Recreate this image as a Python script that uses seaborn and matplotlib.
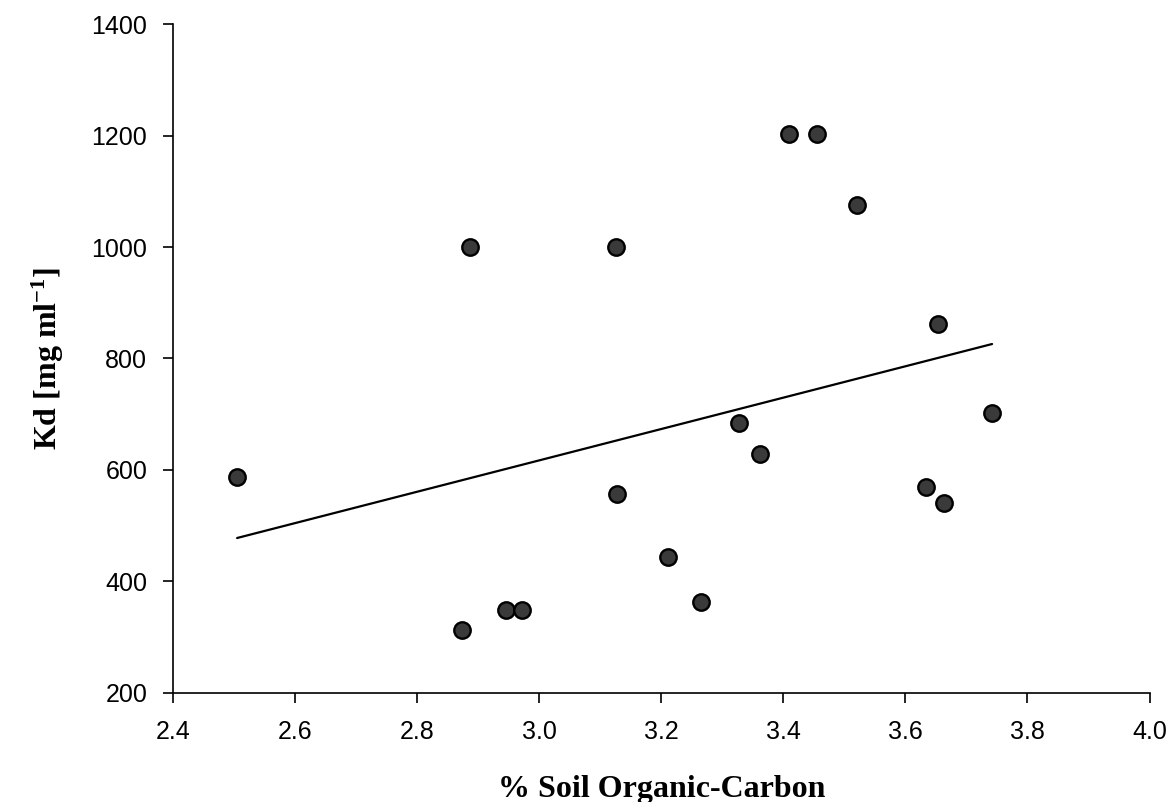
import numpy as np
import pandas as pd
import matplotlib
matplotlib.use("Agg")
import matplotlib.pyplot as plt
import seaborn as sns

# % soil organic carbon vs Kd
soil_oc = [2.505, 2.873, 2.886, 2.946, 2.971, 3.125, 3.128, 3.211, 3.265,
           3.328, 3.362, 3.409, 3.455, 3.521, 3.634, 3.654, 3.663, 3.742]
kd = [587, 313, 1000, 348, 348, 1000, 557, 443, 363,
      685, 628, 1203, 1203, 1075, 570, 861, 540, 702]

x_ticks = [2.4, 2.6, 2.8, 3.0, 3.2, 3.4, 3.6, 3.8, 4.0]
y_ticks = [200, 400, 600, 800, 1000, 1200, 1400]

sns.set_theme(style="white")
plt.rcParams['font.family'] = ['Liberation Sans', 'DejaVu Sans']
plt.rcParams['mathtext.default'] = 'regular'

df = pd.DataFrame({'OC': soil_oc, 'Kd': kd})

fig = plt.figure(figsize=(11.73, 8.02), dpi=100)
ax = fig.add_axes([0.1475, 0.136, 0.8325, 0.834])

# linear fit through the data, drawn over the data range
slope, intercept = np.polyfit(df['OC'], df['Kd'], 1)
fit_x = np.array([df['OC'].min(), df['OC'].max()])
sns.lineplot(x=fit_x, y=slope * fit_x + intercept, color='black', linewidth=1.6, ax=ax)

sns.scatterplot(data=df, x='OC', y='Kd', s=140, color='#3a3a3a',
                edgecolor='black', linewidth=1.7, ax=ax, zorder=3)

ax.set_xlim(2.4, 4.0)
ax.set_ylim(200, 1400)
ax.set_xticks(x_ticks)
ax.set_xticklabels([f"{t:.1f}" for t in x_ticks])
ax.set_yticks(y_ticks)

for side in ['top', 'right']:
    ax.spines[side].set_visible(False)
for side in ['left', 'bottom']:
    ax.spines[side].set_color('black')
    ax.spines[side].set_linewidth(1.2)

ax.tick_params(axis='both', direction='out', length=7.5, width=1.2,
               colors='black', labelsize=18, left=True, bottom=True)
ax.tick_params(axis='x', pad=12)
ax.tick_params(axis='y', pad=11)

ax.set_xlabel('% Soil Organic-Carbon', fontsize=23, fontweight='bold',
              family='Liberation Serif', color='black', labelpad=22)
ax.set_ylabel('Kd [mg ml$^{-1}$]', fontsize=23, fontweight='bold',
              family='Liberation Serif', color='black', labelpad=18)

fig.savefig('out.png', dpi=100)
